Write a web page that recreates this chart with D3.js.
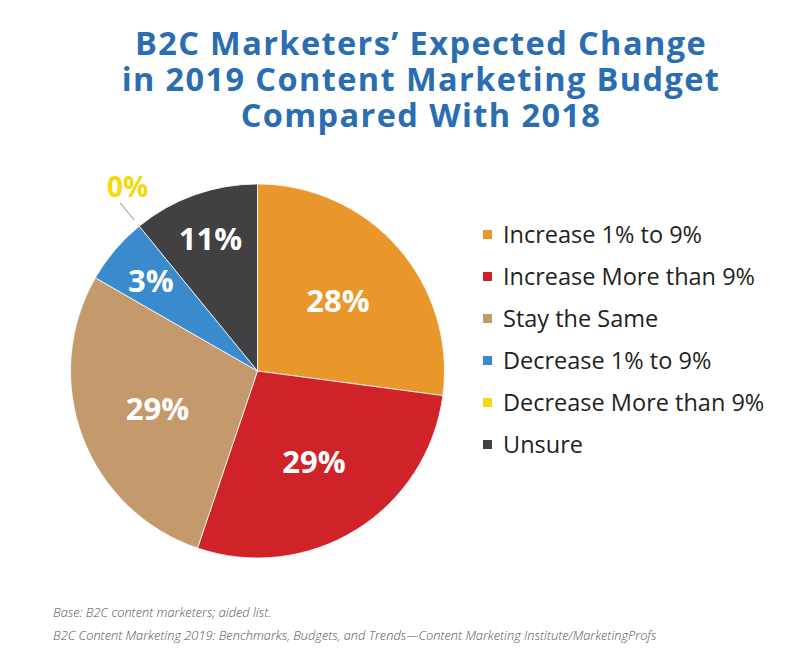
<!DOCTYPE html>
<html>
<head>
<meta charset="utf-8">
<script src="https://cdn.jsdelivr.net/npm/d3@7"></script>
<style>
  html, body { margin: 0; padding: 0; background: #ffffff; }
  svg { display: block; }
</style>
</head>
<body>
<svg id="chart" width="788" height="664"></svg>
<script>
// ---- data ----
const categories = ["Increase 1% to 9%", "Increase More than 9%", "Stay the Same", "Decrease 1% to 9%", "Decrease More than 9%", "Unsure"];
// slice sizes as drawn in the picture
const sliceValues = [27.1, 28.1, 28.1, 5.8, 0, 10.9];
// percentages printed on the chart
const printedLabels = ["28%", "29%", "29%", "3%", "0%", "11%"];
const colors = ["#E9962B", "#CF2229", "#C49A6C", "#3A8BCD", "#F5D90A", "#414042"];
const titleLines = ["B2C Marketers\u2019 Expected Change", "in 2019 Content Marketing Budget", "Compared With 2018"];
const footnotes = ["Base: B2C content marketers; aided list.", "B2C Content Marketing 2019: Benchmarks, Budgets, and Trends\u2014Content Marketing Institute/MarketingProfs"];

const svg = d3.select("#chart");

// ---- title (one text block, three lines) ----
svg.append("text")
  .attr("text-anchor", "middle")
  .attr("font-family", "Open Sans, sans-serif")
  .attr("font-weight", 700)
  .attr("font-size", 32.5)
  .attr("letter-spacing", 1.4)
  .attr("fill", "#2A6DB1")
  .selectAll("tspan").data(titleLines).join("tspan")
  .attr("x", 421)
  .attr("y", (d, i) => 55 + i * 36)
  .text(d => d);

// ---- pie ----
const cx = 257.5, cy = 371, R = 187;
const pie = d3.pie().sort(null).value(d => d.v);
const data = categories.map((c, i) => ({ c, v: sliceValues[i], label: printedLabels[i], color: colors[i] }));
const arcs = pie(data);
const arc = d3.arc().innerRadius(0).outerRadius(R);

const g = svg.append("g").attr("transform", `translate(${cx},${cy})`);
g.selectAll("path").data(arcs.filter(a => a.data.v > 0)).join("path")
  .attr("d", arc)
  .attr("fill", d => d.data.color)
  .attr("stroke", "#ffffff")
  .attr("stroke-width", 0.8);

// labels inside slices
const midA = d => (d.startAngle + d.endAngle) / 2;
g.selectAll("text.in").data(arcs.filter(a => a.data.v > 0)).join("text")
  .attr("class", "in")
  .attr("x", d => Math.sin(midA(d)) * (d.data.v > 15 ? 107 : 140))
  .attr("y", d => -Math.cos(midA(d)) * (d.data.v > 15 ? 107 : 140))
  .attr("dy", "0.36em")
  .attr("text-anchor", "middle")
  .attr("font-family", "Open Sans, sans-serif")
  .attr("font-weight", 700)
  .attr("font-size", 31)
  .attr("fill", "#ffffff")
  .text(d => d.data.label);

// zero slice: leader line + outside label
const zero = arcs.filter(a => a.data.v === 0);
g.selectAll("line.lead").data(zero).join("line")
  .attr("x1", d => Math.sin(d.startAngle) * (R + 8))
  .attr("y1", d => -Math.cos(d.startAngle) * (R + 8))
  .attr("x2", d => Math.sin(d.startAngle) * (R + 30))
  .attr("y2", d => -Math.cos(d.startAngle) * (R + 30))
  .attr("stroke", "#888888")
  .attr("stroke-width", 1);
g.selectAll("text.out").data(zero).join("text")
  .attr("class", "out")
  .attr("x", d => Math.sin(d.startAngle + 0.07) * (R + 38))
  .attr("y", d => -Math.cos(d.startAngle + 0.07) * (R + 38))
  .attr("dy", "0.36em")
  .attr("text-anchor", "middle")
  .attr("font-family", "Open Sans, sans-serif")
  .attr("font-weight", 700)
  .attr("font-size", 28)
  .attr("fill", d => d.data.color)
  .text(d => d.data.label);

// ---- legend ----
const leg = svg.append("g").attr("transform", "translate(483,235)");
const rows = leg.selectAll("g").data(data).join("g")
  .attr("transform", (d, i) => `translate(0,${i * 42})`);
rows.append("rect")
  .attr("x", 0).attr("y", -5).attr("width", 9).attr("height", 9)
  .attr("fill", d => d.color);
rows.append("text")
  .attr("x", 20).attr("y", 0).attr("dy", "0.35em")
  .attr("font-family", "Open Sans, sans-serif")
  .attr("font-size", 23.5)
  .attr("fill", "#231F20")
  .text(d => d.c);

// ---- footnotes ----
svg.append("g").selectAll("text").data(footnotes).join("text")
  .attr("x", 53)
  .attr("y", (d, i) => 617 + i * 23)
  .attr("font-family", "Open Sans, sans-serif")
  .attr("font-style", "italic")
  .attr("font-weight", 300)
  .attr("font-size", 12.8)
  .attr("fill", "#555555")
  .text(d => d);
</script>
</body>
</html>
